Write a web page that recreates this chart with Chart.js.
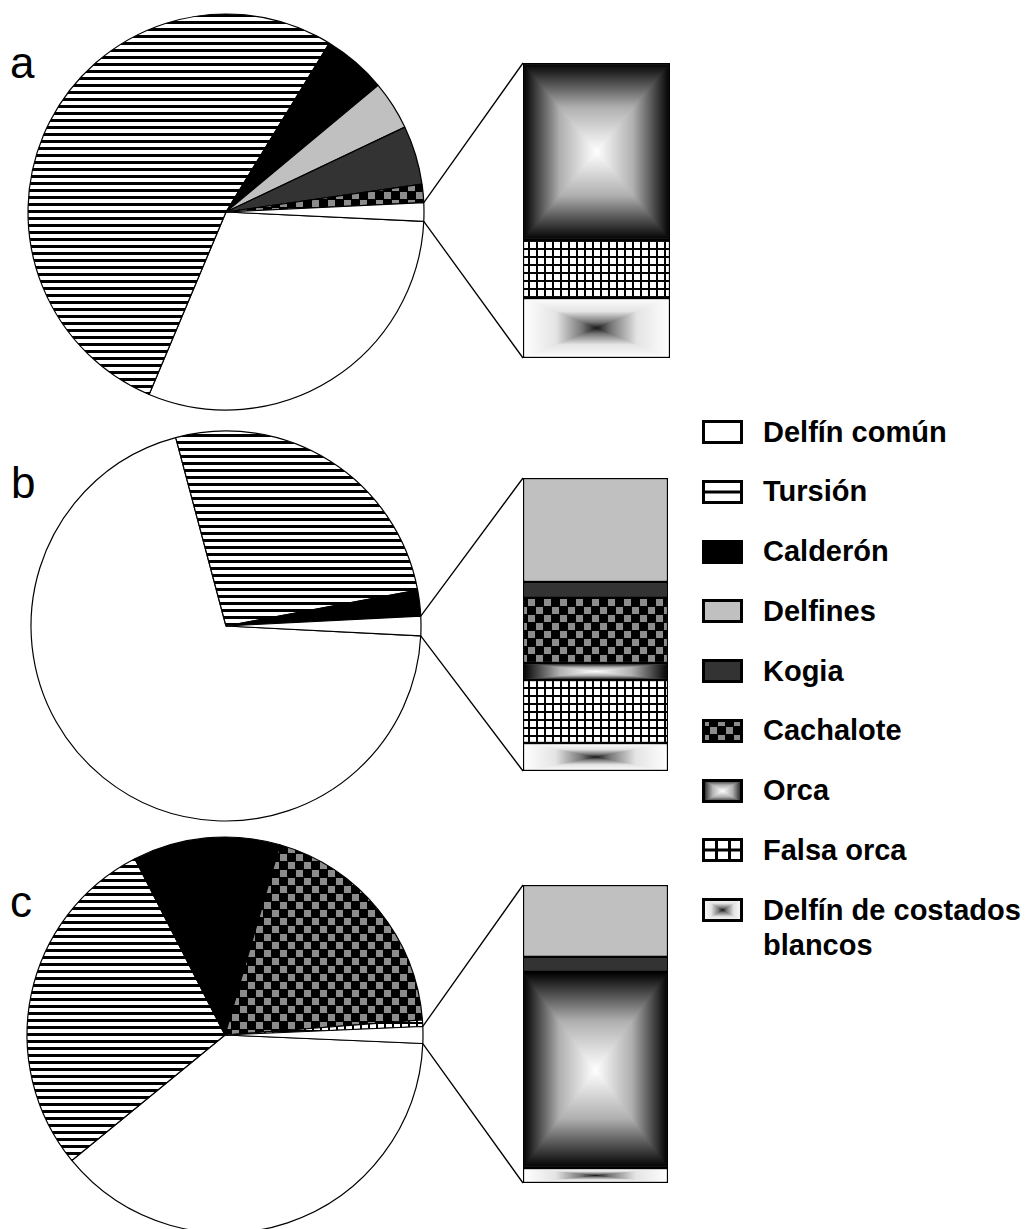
<!DOCTYPE html>
<html>
<head>
<meta charset="utf-8">
<script src="https://cdn.jsdelivr.net/npm/chart.js@4/dist/chart.umd.min.js"></script>
<style>
  body { margin: 0; background: #fff; overflow: hidden; width: 1033px; height: 1229px; position: relative;
         font-family: "Liberation Sans", Arial, sans-serif; }
  canvas { position: absolute; }
  .tag { position: absolute; font-size: 44px; line-height: 44px; color: #000; }
  .item-txt { position: absolute; left: 763px; width: 268px; font-weight: bold; font-size: 29px; line-height: 35px; color: #000; }
</style>
</head>
<body>
<div class="tag" style="left:10px;top:41px">a</div>
<div class="tag" style="left:11px;top:461px">b</div>
<div class="tag" style="left:10px;top:880px">c</div>

<canvas id="pieA" width="452" height="424" style="left:0;top:0"></canvas>
<canvas id="pieB" width="452" height="412" style="left:0;top:420px"></canvas>
<canvas id="pieC" width="450" height="410" style="left:0;top:830px"></canvas>
<canvas id="barA" width="300" height="340" style="left:400px;top:40px"></canvas>
<canvas id="barB" width="300" height="340" style="left:400px;top:455px"></canvas>
<canvas id="barC" width="300" height="340" style="left:400px;top:862px"></canvas>
<div id="legend"></div>

<script>
// species in legend order
const species = ['Delfín común', 'Tursión', 'Calderón', 'Delfines', 'Kogia', 'Cachalote', 'Orca', 'Falsa orca', 'Delfín de costados blancos'];

// panel a (% of sightings); the small ones go to the bar
const pieLabelsA = ['Delfín común', 'Tursión', 'Calderón', 'Delfines', 'Kogia', 'Cachalote'];
const pieValuesA = [30.6, 52.4, 5.2, 4.0, 4.8, 1.5];
const barLabelsA = ['Orca', 'Falsa orca', 'Delfín de costados blancos'];
const barValuesA = [0.90, 0.295, 0.305];

// panel b
const pieLabelsB = ['Delfín común', 'Tursión', 'Calderón'];
const pieValuesB = [70.05, 26.2, 2.15];
const barLabelsB = ['Delfines', 'Kogia', 'Cachalote', 'Orca', 'Falsa orca', 'Delfín de costados blancos'];
const barValuesB = [0.568, 0.087, 0.355, 0.093, 0.344, 0.153];

// panel c
const pieLabelsC = ['Delfín común', 'Tursión', 'Calderón', 'Cachalote', 'Falsa orca'];
const pieValuesC = [38.4, 28.4, 12.0, 19.3, 0.54];
const barLabelsC = ['Delfines', 'Kogia', 'Orca', 'Delfín de costados blancos'];
const barValuesC = [0.33, 0.069, 0.90, 0.069];

// ---- fills ----
function tile(w, h, draw) {
  const c = document.createElement('canvas');
  c.width = w; c.height = h;
  const g = c.getContext('2d');
  draw(g);
  return g.createPattern(c, 'repeat');
}
const stripes = tile(8, 7, g => {
  g.fillStyle = '#fff'; g.fillRect(0, 0, 8, 7);
  g.fillStyle = '#000'; g.fillRect(0, 0, 8, 3);
});
const checker = tile(16, 16, g => {
  g.fillStyle = '#000'; g.fillRect(0, 0, 16, 16);
  g.fillStyle = '#8c8c8c'; g.fillRect(0, 0, 7, 7); g.fillRect(8, 8, 7, 7);
});
const grid = tile(8, 8, g => {
  g.fillStyle = '#fff'; g.fillRect(0, 0, 8, 8);
  g.fillStyle = '#000'; g.fillRect(0, 0, 8, 2); g.fillRect(0, 0, 2, 8);
});

const FILLS = {
  'Delfín común': '#ffffff',
  'Tursión': stripes,
  'Calderón': '#000000',
  'Delfines': '#c0c0c0',
  'Kogia': '#333333',
  'Cachalote': checker,
  'Falsa orca': grid
};
// rectangular "from centre" gradients: [position from edge (0) to centre (1), grey level]
const GRADIENTS = {
  'Orca': [[0, 0], [0.06, 20], [0.5, 175], [1, 255]],
  'Delfín de costados blancos': [[0, 255], [0.45, 228], [0.8, 120], [1, 25]]
};

function greyAt(stops, s) {
  for (let k = 1; k < stops.length; k++) {
    if (s <= stops[k][0]) {
      const [s0, v0] = stops[k - 1], [s1, v1] = stops[k];
      return v0 + (v1 - v0) * (s - s0) / (s1 - s0);
    }
  }
  return stops[stops.length - 1][1];
}

function paintBox(g, x, y, w, h, stops) {
  if (w < 1 || h < 1) return;
  const img = g.createImageData(w, h);
  for (let j = 0; j < h; j++) {
    for (let i = 0; i < w; i++) {
      const tx = Math.abs(i + 0.5 - w / 2) / (w / 2);
      const ty = Math.abs(j + 0.5 - h / 2) / (h / 2);
      const v = greyAt(stops, 1 - Math.max(tx, ty));
      const k = (j * w + i) * 4;
      img.data[k] = img.data[k + 1] = img.data[k + 2] = v;
      img.data[k + 3] = 255;
    }
  }
  g.putImageData(img, x, y);
}

// gradient for one stacked bar segment, placed with the chart's own scales
function boxPattern(chart, index, values, stops) {
  const area = chart.chartArea, ys = chart.scales.y;
  if (!area || !ys) return '#ffffff';
  const start = values.slice(0, index).reduce((s, v) => s + v, 0);
  const yA = ys.getPixelForValue(start), yB = ys.getPixelForValue(start + values[index]);
  const x0 = Math.round(area.left), x1 = Math.round(area.right);
  const y0 = Math.round(Math.min(yA, yB)), y1 = Math.round(Math.max(yA, yB));
  const off = document.createElement('canvas');
  off.width = chart.width; off.height = chart.height;
  const g = off.getContext('2d');
  paintBox(g, x0, y0, x1 - x0, y1 - y0, stops);
  return g.createPattern(off, 'no-repeat');
}

// ---- charts ----
function makePie(id, labels, values, barValues, radius) {
  const other = barValues.reduce((s, v) => s + v, 0);
  const data = values.concat([other]);
  const total = data.reduce((s, v) => s + v, 0);
  // the combined slice is centred on 3 o'clock
  const rotation = 90 + other / total * 180;
  return new Chart(document.getElementById(id), {
    type: 'pie',
    data: {
      labels: labels.concat(['Otros']),
      datasets: [{
        data: data,
        backgroundColor: labels.map(l => FILLS[l]).concat(['#ffffff']),
        borderColor: '#000',
        borderWidth: 1.2,
        rotation: rotation,
        radius: radius
      }]
    },
    options: {
      responsive: false,
      animation: false,
      events: [],
      layout: { padding: 0 },
      plugins: { legend: { display: false }, tooltip: { enabled: false } }
    }
  });
}

function connectors(pie, pieCanvas, barCanvas) {
  return {
    id: 'connectors',
    afterDatasetsDraw(chart) {
      const meta = pie.getDatasetMeta(0);
      const arc = meta.data[meta.data.length - 1];
      const dx = pieCanvas.offsetLeft - barCanvas.offsetLeft;
      const dy = pieCanvas.offsetTop - barCanvas.offsetTop;
      const { left, top, bottom } = chart.chartArea;
      const r = arc.outerRadius;
      const ctx = chart.ctx;
      ctx.save();
      ctx.strokeStyle = '#000';
      ctx.lineWidth = 1.3;
      ctx.beginPath();
      ctx.moveTo(arc.x + r * Math.cos(arc.startAngle) + dx, arc.y + r * Math.sin(arc.startAngle) + dy);
      ctx.lineTo(left, top);
      ctx.moveTo(arc.x + r * Math.cos(arc.endAngle) + dx, arc.y + r * Math.sin(arc.endAngle) + dy);
      ctx.lineTo(left, bottom);
      ctx.stroke();
      ctx.restore();
    }
  };
}

function makeBar(id, labels, values, pie, pieId, padding) {
  const sum = values.reduce((s, v) => s + v, 0);
  const barCanvas = document.getElementById(id);
  return new Chart(barCanvas, {
    type: 'bar',
    data: {
      labels: [''],
      datasets: labels.map((name, i) => ({
        label: name,
        data: [values[i]],
        backgroundColor: GRADIENTS[name]
          ? (c) => boxPattern(c.chart, i, values, GRADIENTS[name])
          : FILLS[name],
        borderColor: '#000',
        borderWidth: 1.5,
        borderSkipped: false,
        categoryPercentage: 1,
        barPercentage: 1
      }))
    },
    options: {
      responsive: false,
      animation: false,
      events: [],
      layout: { padding: padding },
      scales: {
        x: { stacked: true, display: false },
        y: { stacked: true, display: false, reverse: true, min: 0, max: sum }
      },
      plugins: { legend: { display: false }, tooltip: { enabled: false } }
    },
    plugins: [connectors(pie, document.getElementById(pieId), barCanvas)]
  });
}

const pieA = makePie('pieA', pieLabelsA, pieValuesA, barValuesA, 198);
const pieB = makePie('pieB', pieLabelsB, pieValuesB, barValuesB, 195);
const pieC = makePie('pieC', pieLabelsC, pieValuesC, barValuesC, 198);

makeBar('barA', barLabelsA, barValuesA, pieA, 'pieA', { left: 123, right: 30, top: 23, bottom: 22 });
makeBar('barB', barLabelsB, barValuesB, pieB, 'pieB', { left: 123, right: 32, top: 23, bottom: 24 });
makeBar('barC', barLabelsC, barValuesC, pieC, 'pieC', { left: 123, right: 32, top: 23, bottom: 19 });

// ---- legend ----
function drawSwatch(cv, name) {
  const g = cv.getContext('2d');
  const w = cv.width, h = cv.height;
  if (GRADIENTS[name]) {
    paintBox(g, 0, 0, w, h, GRADIENTS[name]);
  } else if (name === 'Tursión') {
    g.fillStyle = '#fff'; g.fillRect(0, 0, w, h);
    g.fillStyle = '#000'; g.fillRect(0, h / 2 - 1.5, w, 3);
  } else if (name === 'Falsa orca') {
    g.fillStyle = '#fff'; g.fillRect(0, 0, w, h);
    g.fillStyle = '#000';
    for (let x = 0; x < w; x += 13) g.fillRect(x, 0, 3, h);
    for (let y = 0; y < h; y += 10.5) g.fillRect(0, y, w, 3);
  } else {
    g.fillStyle = FILLS[name]; g.fillRect(0, 0, w, h);
  }
  g.strokeStyle = '#000';
  g.lineWidth = 3;
  g.strokeRect(1.5, 1.5, w - 3, h - 3);
}

const legend = document.getElementById('legend');
species.forEach((name, i) => {
  const cy = 432 + i * 59.75;
  const sw = document.createElement('canvas');
  sw.width = 41; sw.height = 24;
  sw.style.left = '702px';
  sw.style.top = (cy - 12) + 'px';
  drawSwatch(sw, name);
  legend.appendChild(sw);
  const tx = document.createElement('div');
  tx.className = 'item-txt';
  tx.style.top = (cy - 17.5) + 'px';
  tx.textContent = name;
  legend.appendChild(tx);
});
</script>
</body>
</html>
